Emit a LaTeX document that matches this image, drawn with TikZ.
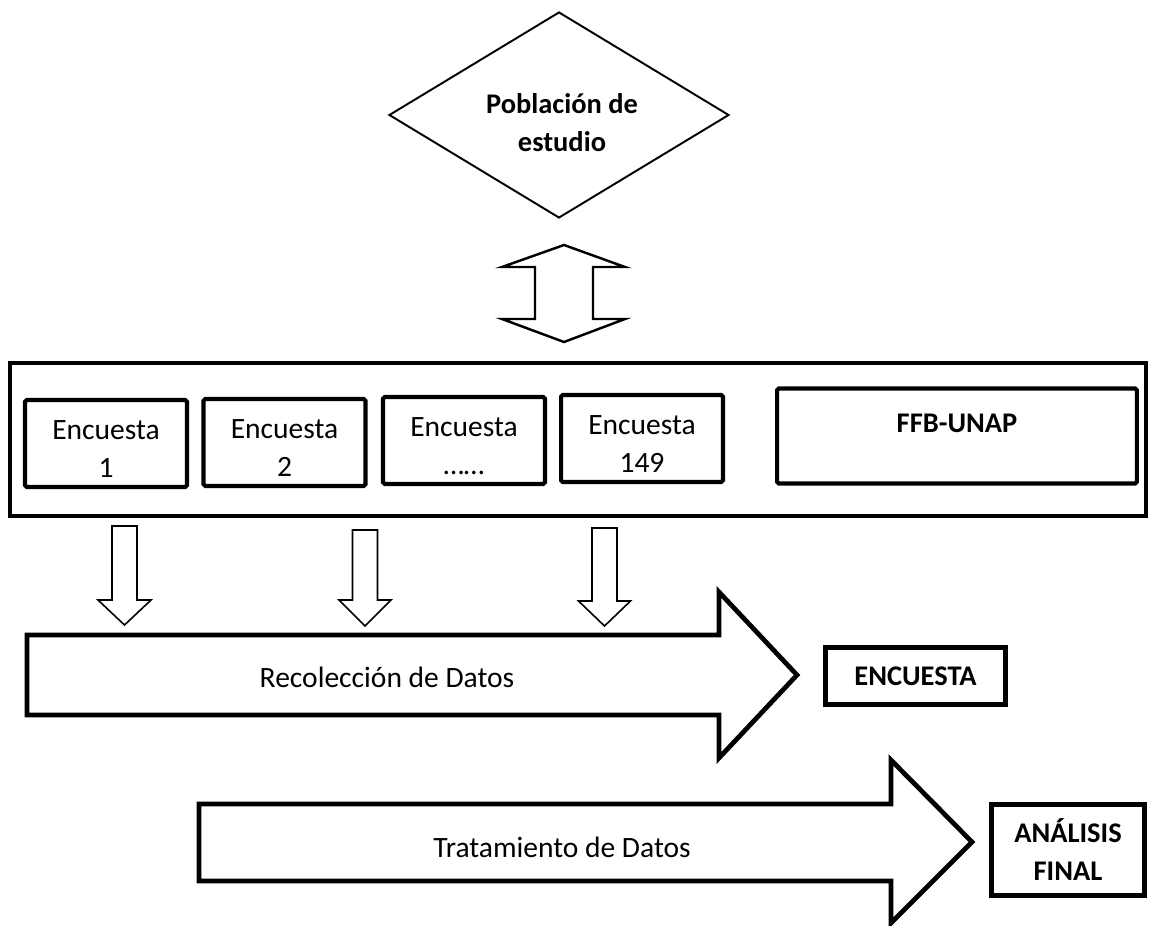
\documentclass[tikz,border=0pt]{standalone}
\usepackage{fontspec}
\setmainfont{Carlito}
\usetikzlibrary{shapes.geometric}
\newcommand{\txtsize}{\fontsize{16.8}{21.6}\selectfont}
\newcommand{\boldsize}{\fontsize{16.2}{21.6}\selectfont\bfseries}
\newcommand{\topgap}{\rule{0pt}{0.6cm}}
\tikzset{
  plaintext/.style={align=center, inner sep=0pt, font=\txtsize},
  boldtext/.style={align=center, inner sep=0pt, font=\boldsize},
  popdiamond/.style={draw, diamond, line width=1.1pt, inner sep=0pt, minimum width=6.8cm, minimum height=4.12cm},
  bigbox/.style={draw, line width=2.5pt, minimum width=22.72cm, minimum height=3.06cm},
  encbox/.style={draw, line width=2.3pt, rounded corners=1pt, minimum width=3.24cm, minimum height=1.74cm, plaintext},
  ffbbox/.style={draw, line width=2.3pt, rounded corners=1pt, minimum width=7.2cm, minimum height=1.9cm},
  resbox/.style={draw, line width=2.8pt, boldtext},
  blockarrow/.style={draw, line width=2.7pt, line join=miter},
  thinarrow/.style={draw, line width=0.9pt, line join=miter}
}
\begin{document}
\begin{tikzpicture}[x=0.02cm, y=-0.02cm]
\useasboundingbox (0,0) rectangle (1150,926);
\node[popdiamond] (poblacion) at (559,115) {};
\node[boldtext] (poblaciontxt) at (562,123) {Población de\\estudio};
\draw[line width=1.4pt, line join=miter] (564,245) -- (625,267) -- (593,267) -- (593,319) -- (625,319) -- (564,342) -- (502,319) -- (535,319) -- (535,267) -- (502,267) -- cycle;
\node[bigbox] (marco) at (578,439.5) {};
\node[encbox] (enc1) at (106,443.5) {\topgap Encuesta\\1};
\node[encbox] (enc2) at (284.5,442.5) {\topgap Encuesta\\2};
\node[encbox] (enc3) at (464,440.5) {\topgap Encuesta\\……};
\node[encbox] (enc4) at (642,438.5) {\topgap Encuesta\\149};
\node[ffbbox] (ffb) at (957,436) {};
\node[boldtext] (ffbtxt) at (957,423) {FFB-UNAP};
\draw[thinarrow] (112,526) -- (137,526) -- (137,600) -- (151,600) -- (124.5,625) -- (98,600) -- (112,600) -- cycle;
\draw[thinarrow] (352.5,530) -- (377.5,530) -- (377.5,600) -- (391,600) -- (365,626) -- (339,600) -- (352.5,600) -- cycle;
\draw[thinarrow] (592,528) -- (617,528) -- (617,601) -- (630.5,601) -- (604.5,626) -- (578.5,601) -- (592,601) -- cycle;
\draw[blockarrow] (27,635) -- (719,635) -- (719,592) -- (797,675) -- (719,758) -- (719,715) -- (27,715) -- cycle;
\node[plaintext] (recoleccion) at (387,677) {Recolección de Datos};
\node[resbox, minimum width=3.6cm, minimum height=1.14cm] (encuesta) at (915.5,676) {ENCUESTA};
\draw[blockarrow] (199,804) -- (891,804) -- (891,760) -- (972,842) -- (891,923) -- (891,881) -- (199,881) -- cycle;
\node[plaintext] (tratamiento) at (562,847) {Tratamiento de Datos};
\node[resbox, minimum width=3.06cm, minimum height=1.82cm] (analisis) at (1068,850) {ANÁLISIS\\FINAL};
\end{tikzpicture}
\end{document}
